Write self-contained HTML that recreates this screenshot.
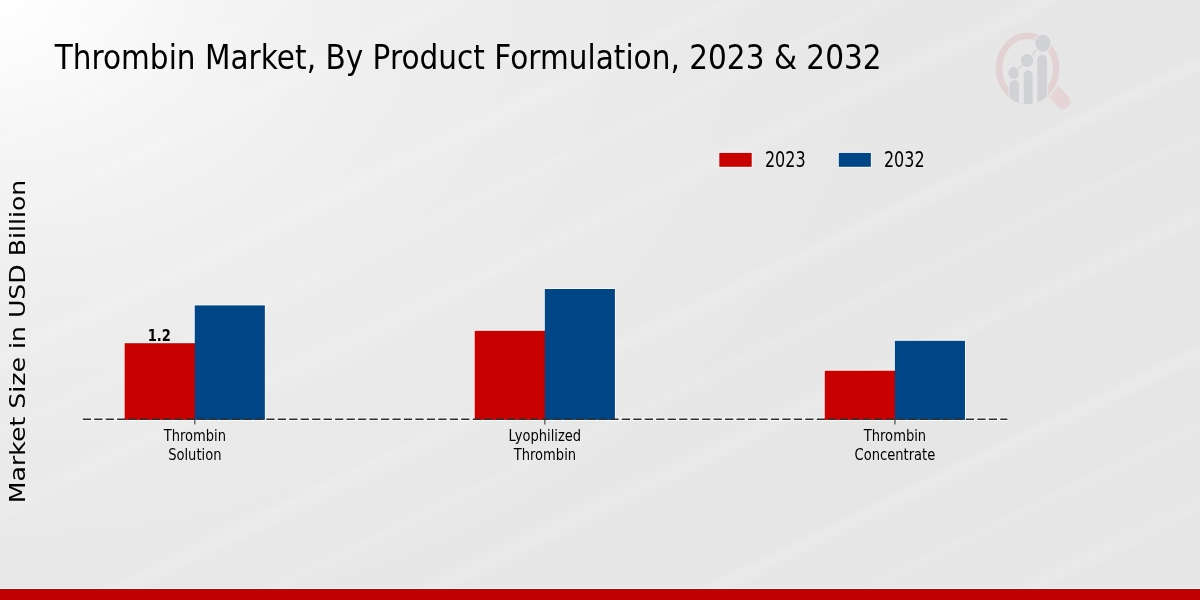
<!DOCTYPE html>
<html>
<head>
<meta charset="utf-8">
<title>Thrombin Market, By Product Formulation, 2023 &amp; 2032</title>
<style>
html,body{margin:0;padding:0;}
body{width:1200px;height:600px;overflow:hidden;position:relative;
 background:#e6e6e6;
 background-image:repeating-linear-gradient(154deg,rgba(255,255,255,0) 0px,rgba(255,255,255,0) 50px,rgba(255,255,255,.16) 62px,rgba(255,255,255,0) 76px,rgba(255,255,255,0) 120px,rgba(255,255,255,.10) 128px,rgba(255,255,255,0) 140px,rgba(255,255,255,0) 185px,rgba(255,255,255,.14) 200px,rgba(255,255,255,0) 212px,rgba(255,255,255,0) 260px),radial-gradient(ellipse 1100px 800px at 0 0,#ffffff 0%,#f5f5f5 18%,#eeeeee 36%,#eaeaea 58%,#e7e7e7 80%,#e6e6e6 100%);
 font-family:"DejaVu Sans","Liberation Sans",sans-serif;color:#000;}
svg{position:absolute;left:0;top:0;}
text{font-family:"DejaVu Sans","Liberation Sans",sans-serif;fill:#000;}
.t{font-size:34.5px;}
.yl{font-size:25.17px;}
.tk{font-size:15.28px;text-anchor:middle;}
.lg{font-size:18.68px;}
.v{font-size:15.28px;font-weight:bold;text-anchor:middle;}
</style>
</head>
<body>
<!-- logo (drawn in screen coordinates) -->
<svg width="1200" height="600" viewBox="0 0 1200 600">
 <defs>
  <clipPath id="lens"><ellipse cx="1027.6" cy="68.4" rx="31.7" ry="35.9"/></clipPath>
  <mask id="hm" maskUnits="userSpaceOnUse" x="980" y="20" width="120" height="110"><rect x="980" y="20" width="120" height="110" fill="#fff"/><ellipse cx="1027.6" cy="68.4" rx="33.3" ry="37.5" fill="#000"/></mask>
 </defs>
 <g opacity="1">
  <line x1="1052" y1="90" x2="1063.2" y2="101.6" stroke="#e5d5d7" stroke-width="14.6" stroke-linecap="round" mask="url(#hm)"/>
  <ellipse cx="1027.6" cy="68.4" rx="28.5" ry="32.6" fill="none" stroke="#e3d2d4" stroke-width="6.5"/>
  <g clip-path="url(#lens)">
   <rect x="1009.6" y="88" width="37.5" height="20" fill="#e7e7e7"/>
   <g fill="#d1d2d6" stroke="#e7e7e7" stroke-width="1">
    <rect x="1009.1" y="79.6" width="10.5" height="40" rx="5.2" ry="5.6"/>
    <rect x="1023.1" y="69.8" width="10.1" height="50" rx="5" ry="5.6"/>
    <rect x="1036.8" y="54.4" width="10.8" height="60" rx="5.4" ry="5.6"/>
   </g>
  </g>
  <polyline points="1013.5,73.1 1027.1,60.5 1042.9,43.1" fill="none" stroke="#d1d2d6" stroke-width="1.3"/>
  <g fill="#d1d2d6" stroke="#e7e7e7" stroke-width="1.2">
   <ellipse cx="1013.5" cy="73.1" rx="5.8" ry="6.8"/>
   <ellipse cx="1027.1" cy="60.5" rx="6.7" ry="7.2"/>
   <ellipse cx="1042.9" cy="43.1" rx="8.1" ry="9.3"/>
  </g>
 </g>
</svg>

<!-- chart: authored at 1400x600, squeezed horizontally to 1200 -->
<svg width="1200" height="600" viewBox="0 0 1400 600" preserveAspectRatio="none">
 <!-- bottom strip -->
 <rect x="0" y="588" width="1400" height="1" fill="#ffffff"/>
 <rect x="0" y="589" width="1400" height="11" fill="#c00000"/>

 <text class="t" x="63.8" y="68.7">Thrombin Market, By Product Formulation, 2023 &amp; 2032</text>

 <text class="yl" transform="translate(28.8,503.2) rotate(-90)">Market Size in USD Billion</text>

 <!-- legend -->
 <rect x="839.2" y="152.9" width="37.8" height="13.9" fill="#c80000" stroke="#f9f9f9" stroke-width="2" paint-order="stroke"/>
 <text class="lg" transform="translate(892.4,166.8) scale(1,1.10)">2023</text>
 <rect x="978.6" y="152.9" width="37.4" height="13.9" fill="#004586" stroke="#f9f9f9" stroke-width="2" paint-order="stroke"/>
 <text class="lg" transform="translate(1031.2,166.8) scale(1,1.10)">2032</text>

 <line x1="95.6" y1="419.25" x2="1176.3" y2="419.25" stroke="#f7f7f7" stroke-width="3.4" stroke-dasharray="11.58,1.8"/>
 <!-- bars -->
 <g fill="none" stroke="#f9f9f9" stroke-width="2">
  <rect x="145.4" y="343.2" width="83" height="76.7"/>
  <rect x="227.2" y="305.4" width="81.8" height="114.5"/>
  <rect x="553.8" y="330.8" width="83" height="89.1"/>
  <rect x="635.6" y="289" width="81.8" height="130.9"/>
  <rect x="962.2" y="370.7" width="83" height="49.2"/>
  <rect x="1044" y="340.8" width="81.8" height="79.1"/>
 </g>
 <rect x="145.4" y="343.2" width="83" height="76.7" fill="#c80000"/>
 <rect x="227.2" y="305.4" width="81.8" height="114.5" fill="#004586"/>
 <rect x="553.8" y="330.8" width="83" height="89.1" fill="#c80000"/>
 <rect x="635.6" y="289" width="81.8" height="130.9" fill="#004586"/>
 <rect x="962.2" y="370.7" width="83" height="49.2" fill="#c80000"/>
 <rect x="1044" y="340.8" width="81.8" height="79.1" fill="#004586"/>
 <text class="v" x="185.9" y="340.6">1.2</text>

 <!-- axis -->
 <line x1="96.6" y1="419.25" x2="1175.3" y2="419.25" stroke="#2e2e2e" stroke-width="1.4" stroke-dasharray="9.58,3.8"/>
 <g stroke="#2e2e2e" stroke-width="1.2">
  <line x1="227.3" y1="419" x2="227.3" y2="424.5"/>
  <line x1="635.7" y1="419" x2="635.7" y2="424.5"/>
  <line x1="1044.1" y1="419" x2="1044.1" y2="424.5"/>
 </g>
 <text class="tk" x="227.3" y="441.2">Thrombin</text>
 <text class="tk" x="227.3" y="460">Solution</text>
 <text class="tk" x="635.7" y="441.2">Lyophilized</text>
 <text class="tk" x="635.7" y="460">Thrombin</text>
 <text class="tk" x="1044.1" y="441.2">Thrombin</text>
 <text class="tk" x="1044.1" y="460">Concentrate</text>
</svg>
</body>
</html>
